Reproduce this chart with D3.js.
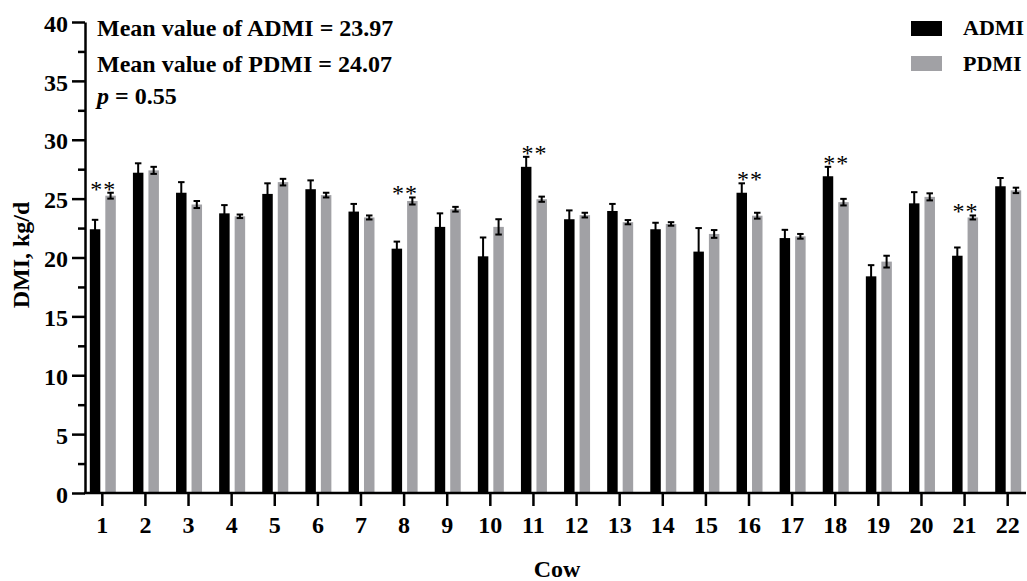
<!DOCTYPE html>
<html>
<head>
<meta charset="utf-8">
<script src="https://cdn.jsdelivr.net/npm/d3@7"></script>
<style>
  html, body { margin: 0; padding: 0; background: #fff; }
  svg { display: block; }
  text { font-family: "Liberation Serif", "Times New Roman", serif; fill: #000; }
</style>
</head>
<body>
<svg id="chart" width="1027" height="581"></svg>
<script>
// ---- data ----
const cows = ["1","2","3","4","5","6","7","8","9","10","11","12","13","14","15","16","17","18","19","20","21","22"];
const admi    = [22.4, 27.2, 25.5, 23.75, 25.4, 25.8, 23.9, 20.75, 22.6, 20.1, 27.7, 23.25, 23.95, 22.4, 20.5, 25.5, 21.65, 26.9, 18.4, 24.6, 20.15, 26.05];
const admiErr = [0.8, 0.8, 0.9, 0.7, 0.9, 0.75, 0.65, 0.6, 1.15, 1.6, 0.85, 0.75, 0.6, 0.55, 2.0, 0.8, 0.7, 0.8, 0.95, 0.95, 0.7, 0.7];
const pdmi    = [25.25, 27.4, 24.5, 23.5, 26.4, 25.3, 23.4, 24.8, 24.1, 22.6, 24.95, 23.6, 23.0, 22.85, 22.0, 23.55, 21.8, 24.7, 19.65, 25.15, 23.4, 25.7];
const pdmiErr = [0.25, 0.3, 0.3, 0.15, 0.28, 0.2, 0.17, 0.3, 0.2, 0.65, 0.22, 0.2, 0.18, 0.15, 0.33, 0.25, 0.2, 0.28, 0.5, 0.3, 0.17, 0.23];
const seriesNames = ["ADMI", "PDMI"];
const significant = ["1","8","11","16","18","21"];
const yMajorTicks = [0,5,10,15,20,25,30,35,40];
const yMinorTicks = [2.5,7.5,12.5,17.5,22.5,27.5,32.5,37.5];
const annotations = ["Mean value of ADMI = 23.97", "Mean value of PDMI = 24.07"];
const pLine = ["p", " = 0.55"];

// ---- layout ----
const W = 1027, H = 581;
const colors = { ADMI: "#000000", PDMI: "#a1a1a5" };
const svg = d3.select("#chart");
svg.append("rect").attr("width", W).attr("height", H).attr("fill", "#fff");

const y = d3.scaleLinear().domain([0, 40]).range([493, 22]);
const x = d3.scaleBand().domain(cows).range([80.75, 1029.25]).padding(0);
const xs = d3.scaleBand().domain(seriesNames).range([x.bandwidth()/2 - 12.5, x.bandwidth()/2 + 13.5]).paddingInner(0.323).paddingOuter(0);
const axisX = 85;

const rows = cows.map((c, i) => ({
  cow: c,
  vals: [
    { s: "ADMI", v: admi[i], e: admiErr[i] },
    { s: "PDMI", v: pdmi[i], e: pdmiErr[i] }
  ]
}));

// bars
const g = svg.append("g");
const groups = g.selectAll("g.grp").data(rows).join("g")
  .attr("class", "grp")
  .attr("transform", d => `translate(${x(d.cow)},0)`);

groups.selectAll("rect").data(d => d.vals).join("rect")
  .attr("x", d => xs(d.s))
  .attr("width", xs.bandwidth())
  .attr("y", d => y(d.v))
  .attr("height", d => y(0) - y(d.v))
  .attr("fill", d => colors[d.s]);

// error bars
const capW = 6.5;
const eb = groups.selectAll("g.eb").data(d => d.vals).join("g").attr("class", "eb")
  .attr("stroke", "#000").attr("stroke-width", 2);
eb.append("line")
  .attr("x1", d => xs(d.s) + xs.bandwidth()/2).attr("x2", d => xs(d.s) + xs.bandwidth()/2)
  .attr("y1", d => y(d.v - d.e)).attr("y2", d => y(d.v + d.e));
eb.append("line")
  .attr("x1", d => xs(d.s) + xs.bandwidth()/2 - capW/2).attr("x2", d => xs(d.s) + xs.bandwidth()/2 + capW/2)
  .attr("y1", d => y(d.v + d.e)).attr("y2", d => y(d.v + d.e));
eb.append("line")
  .attr("x1", d => xs(d.s) + xs.bandwidth()/2 - capW/2).attr("x2", d => xs(d.s) + xs.bandwidth()/2 + capW/2)
  .attr("y1", d => y(d.v - d.e)).attr("y2", d => y(d.v - d.e));

// significance stars
groups.filter(d => significant.includes(d.cow))
  .append("text")
  .attr("x", x.bandwidth()/2 + 1)
  .attr("y", d => y(d3.max(d.vals, v => v.v + v.e)) + 4)
  .attr("text-anchor", "middle")
  .attr("font-size", 24)
  .attr("letter-spacing", 1)
  .text("**");

// y axis
const yAxis = svg.append("g").attr("transform", `translate(${axisX},0)`)
  .call(d3.axisLeft(y).tickValues(yMajorTicks).tickSize(13).tickSizeOuter(0).tickPadding(4));
yAxis.selectAll("text").attr("font-size", 24).attr("font-weight", "bold").attr("dy", "0.38em")
  .style("font-family", '"Liberation Serif", serif');
const yMinor = svg.append("g").attr("transform", `translate(${axisX},0)`)
  .call(d3.axisLeft(y).tickValues(yMinorTicks).tickSize(7).tickFormat(""));
yMinor.select(".domain").remove();
svg.selectAll(".domain, .tick line").attr("stroke", "#000").attr("stroke-width", 2.5);

// x axis
const xAxis = svg.append("g").attr("transform", `translate(0,${y(0)})`)
  .call(d3.axisBottom(x).tickSize(13).tickSizeOuter(0));
xAxis.select(".domain").remove();
xAxis.append("line").attr("x1", axisX - 1).attr("x2", W - 1).attr("y1", 0).attr("y2", 0)
  .attr("stroke", "#000").attr("stroke-width", 2.5);
xAxis.selectAll(".tick line").attr("stroke", "#000").attr("stroke-width", 2.5);
xAxis.selectAll(".tick text").attr("y", 40).attr("dy", 0)
  .attr("font-size", 24).attr("font-weight", "bold")
  .style("font-family", '"Liberation Serif", serif');
svg.selectAll(".tick text").attr("fill", "#000");

// axis titles
svg.append("text").attr("x", 557).attr("y", 577).attr("text-anchor", "middle")
  .attr("font-size", 24).attr("font-weight", "bold").text("Cow");
svg.append("text").attr("transform", "translate(29,255) rotate(-90)").attr("text-anchor", "middle")
  .attr("font-size", 24).attr("font-weight", "bold").text("DMI, kg/d");

// annotations
const ann = svg.append("g");
annotations.forEach((t, i) => {
  ann.append("text").attr("x", 97).attr("y", 36 + i * 36)
    .attr("font-size", 24).attr("font-weight", "bold").text(t);
});
const pt = ann.append("text").attr("x", 97).attr("y", 104).attr("font-size", 24).attr("font-weight", "bold");
pt.append("tspan").attr("font-style", "italic").text(pLine[0]);
pt.append("tspan").text(pLine[1]);

// legend
const leg = svg.append("g");
seriesNames.forEach((s, i) => {
  leg.append("rect").attr("x", 911).attr("y", 21 + i * 35).attr("width", 31).attr("height", 15)
    .attr("fill", colors[s]);
  leg.append("text").attr("x", 963).attr("y", 35 + i * 36)
    .attr("font-size", 22).attr("font-weight", "bold").text(s);
});
</script>
</body>
</html>
